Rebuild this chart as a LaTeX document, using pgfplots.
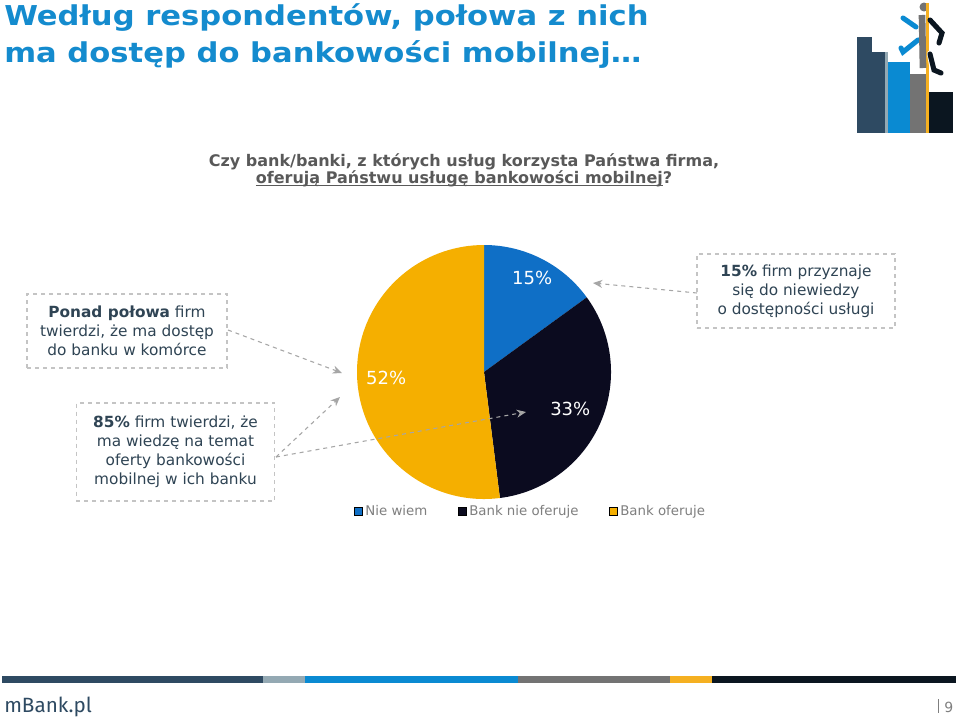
\documentclass[border=0pt]{standalone}
\usepackage{fontspec}
\setmainfont{DejaVu Sans}
\newfontfamily\titlefont[FakeStretch=1.12]{DejaVu Sans}
\newfontfamily\logofont{Fira Sans}
\usepackage{pgfplots}
\usepackage{pgfplotstable}
\pgfplotsset{compat=1.18}
\usetikzlibrary{arrows.meta}

\newcommand\uline[1]{$\underline{\smash{\hbox{#1}}}$}

\definecolor{pieblue}{HTML}{0F6FC6}
\definecolor{pienavy}{HTML}{0B0B1F}
\definecolor{pieyellow}{HTML}{F5AF00}
\definecolor{titleblue}{HTML}{148BCE}
\definecolor{subgray}{HTML}{595959}
\definecolor{boxtext}{HTML}{2F4454}
\definecolor{arrowgray}{HTML}{A6A6A6}
\definecolor{boxgray}{HTML}{C4C4C4}
\definecolor{leggray}{HTML}{7F7F7F}
\definecolor{slate}{HTML}{2E4A62}
\definecolor{paleslate}{HTML}{94A9B3}
\definecolor{stripblue}{HTML}{0A8AD2}
\definecolor{stripgray}{HTML}{737373}
\definecolor{stripyellow}{HTML}{F5B021}
\definecolor{stripdark}{HTML}{0B1620}

% shares of firms, clockwise from 12 o'clock
\pgfplotstableread{
share label
15 {Nie wiem}
33 {Bank nie oferuje}
52 {Bank oferuje}
}\piedata

\begin{document}
\begin{tikzpicture}[x=0.75pt, y=-0.75pt,
    infobox/.style={draw=boxgray, dashed, line width=0.8pt, text=boxtext,
      align=center, inner sep=0pt,
      font=\fontsize{11.5}{14.3}\selectfont},
    pointer/.style={draw=arrowgray, dashed, line width=0.8pt,
      -{Stealth[length=7pt, width=6pt]}},
    titleline/.style={anchor=base west, text=titleblue, inner sep=0pt,
      font=\titlefont\bfseries\fontsize{20.5}{27}\selectfont},
    subline/.style={anchor=base, text=subgray, inner sep=0pt,
      font=\bfseries\fontsize{12}{12.4}\selectfont}]
  \pgfplotstablegetelem{0}{share}\of\piedata \let\va\pgfplotsretval
  \pgfplotstablegetelem{1}{share}\of\piedata \let\vb\pgfplotsretval
  \pgfplotstablegetelem{2}{share}\of\piedata \let\vc\pgfplotsretval
  \pgfmathsetmacro\aA{90}
  \pgfmathsetmacro\aB{\aA-3.6*\va}
  \pgfmathsetmacro\aC{\aB-3.6*\vb}
  \pgfmathsetmacro\aD{\aC-3.6*\vc}
  \pgfmathsetmacro\mA{(\aA+\aB)/2}
  \pgfmathsetmacro\mB{(\aB+\aC)/2}
  \pgfmathsetmacro\mC{(\aC+\aD)/2}

  \fill[white] (0,0) rectangle (960,721);
  \coordinate (pc) at (484,372);

  % title
  \node[titleline] at (4,26) {Według respondentów, połowa z nich};
  \node[titleline] at (4,62) {ma dostęp do bankowości mobilnej\ldots};

  % question
  \node[subline] at (464,166) {Czy bank/banki, z których usług korzysta Państwa firma,};
  \node[subline] at (464,183) {\uline{oferują Państwu usługę bankowości mobilnej}?};

  % logo bars
  \fill[slate] (857,37) rectangle (872,133);
  \fill[slate] (872,52) rectangle (885,133);
  \fill[paleslate] (885,52) rectangle (888,133);
  \fill[stripblue] (888,62) rectangle (910,133);
  \fill[stripgray] (910,74) rectangle (926,133);
  \fill[stripyellow] (926,5) rectangle (929,133);
  \fill[stripdark] (929,92) rectangle (953,133);
  % runner
  \fill[stripgray] (924,7) circle (4.5);
  \fill[stripyellow] (926,2.5) rectangle (928.5,11.5);
  \draw[white, line width=6pt, line cap=round] (918,40) -- (903,52);
  \draw[stripblue, line width=3.8pt, line cap=round] (916,27) -- (903,18);
  \draw[stripblue, line width=3.8pt, line cap=round] (918,40) -- (903,52) -- (901,48);
  \draw[stripgray, line width=5pt] (922,15) -- (923,68);
  \draw[white, line width=6pt, line cap=round] (931,54) -- (934,70) -- (941,73);
  \draw[stripdark, line width=3.8pt, line cap=round] (930,20) -- (942,33) -- (939,43);
  \draw[stripdark, line width=3.8pt, line cap=round] (930,54) -- (934,70) -- (941,73);

  % pie
  \begin{axis}[
    at={(pc)}, anchor=origin,
    x=0.75pt, y=0.75pt,
    xmin=-130, xmax=130, ymin=-130, ymax=130,
    hide axis, clip=false,
    legend columns=3,
    legend cell align=left,
    legend image code/.code={\fill[#1] (0pt,-3pt) rectangle (6pt,3pt);},
    legend style={at={(axis cs:-130,-139)}, anchor=west, draw=none,
      fill=none, inner sep=0pt, text=leggray,
      font=\fontsize{10}{12}\selectfont,
      /tikz/every even column/.append style={column sep=21pt},
      nodes={inner xsep=2pt}},
  ]
    \addlegendimage{fill=pieblue}
    \addlegendentry{Nie wiem}
    \addlegendimage{fill=pienavy}
    \addlegendentry{Bank nie oferuje}
    \addlegendimage{fill=pieyellow}
    \addlegendentry{Bank oferuje}

    \fill[pieblue] (axis cs:0,0) -- (axis cs:{127*cos(\aA)},{127*sin(\aA)})
      arc[start angle=\aA, end angle=\aB, radius=95.25pt] -- cycle;
    \fill[pienavy] (axis cs:0,0) -- (axis cs:{127*cos(\aB)},{127*sin(\aB)})
      arc[start angle=\aB, end angle=\aC, radius=95.25pt] -- cycle;
    \fill[pieyellow] (axis cs:0,0) -- (axis cs:{127*cos(\aC)},{127*sin(\aC)})
      arc[start angle=\aC, end angle=\aD, radius=95.25pt] -- cycle;

    \node[text=white, font=\fontsize{13.5}{14}\selectfont]
      at (axis cs:{106*cos(\mA)},{106*sin(\mA)}) {\va\%};
    \node[text=white, font=\fontsize{13.5}{14}\selectfont]
      at (axis cs:{94*cos(\mB)},{94*sin(\mB)}) {\vb\%};
    \node[text=white, font=\fontsize{13.5}{14}\selectfont]
      at (axis cs:{98*cos(\mC)},{98*sin(\mC)}) {\vc\%};
  \end{axis}

  % callouts
  \node[infobox, minimum width=150pt, minimum height=55.5pt] (b1) at (127,331)
    {\textbf{Ponad połowa} firm\\twierdzi, że ma dostęp\\do banku w komórce};
  \node[infobox, minimum width=149pt, minimum height=73.5pt] (b2) at (175.5,452)
    {\textbf{85\%} firm twierdzi, że\\ma wiedzę na temat\\oferty bankowości\\mobilnej w ich banku};
  \node[infobox, minimum width=148.5pt, minimum height=55.5pt] (b3) at (796,291)
    {\textbf{15\%} firm przyznaje\\się do niewiedzy\\o dostępności usługi};

  \draw[pointer] (228,330) -- (342,373);
  \draw[pointer] (276,457) -- (340,397);
  \draw[pointer] (276,457) -- (526,412);
  \draw[pointer] (697,293) -- (593,283);

  % footer strip
  \fill[slate] (2,676) rectangle (263,683);
  \fill[paleslate] (263,676) rectangle (305,683);
  \fill[stripblue] (305,676) rectangle (518,683);
  \fill[stripgray] (518,676) rectangle (670,683);
  \fill[stripyellow] (670,676) rectangle (712,683);
  \fill[stripdark] (712,676) rectangle (956,683);

  \node[anchor=base west, inner sep=0pt, text=slate,
    font=\logofont\fontsize{15.5}{16}\selectfont] at (4,712) {mBank.pl};
  \draw[leggray, line width=0.6pt] (938,699) -- (938,713);
  \node[anchor=base west, inner sep=0pt, text=leggray,
    font=\fontsize{10.5}{12}\selectfont] at (944,712) {9};
  \useasboundingbox (0,0) rectangle (960,721);
\end{tikzpicture}
\end{document}
